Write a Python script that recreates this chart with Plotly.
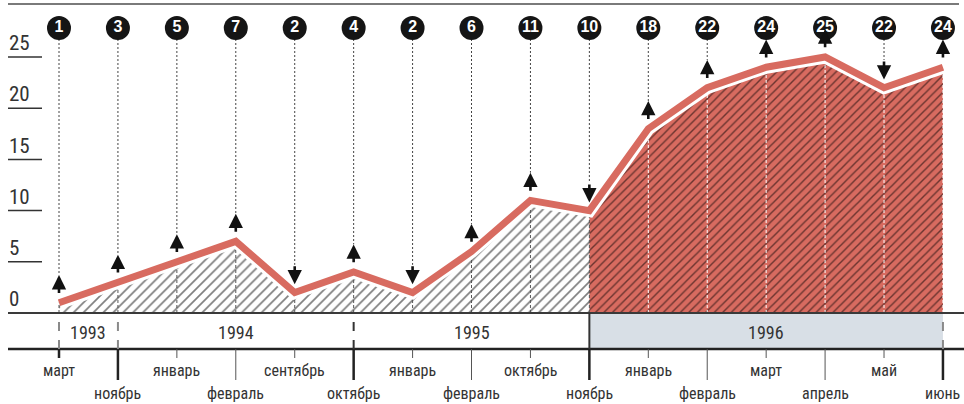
import plotly.graph_objects as go

# ---------------- data ----------------
values = [1, 3, 5, 7, 2, 4, 2, 6, 11, 10, 18, 22, 24, 25, 22, 24]
months = ["март", "ноябрь", "январь", "февраль", "сентябрь", "октябрь", "январь", "февраль",
          "октябрь", "ноябрь", "январь", "февраль", "март", "апрель", "май", "июнь"]
years = ["1993", "1994", "1995", "1996"]
year_bounds = [0, 1, 5, 9, 15]          # index positions where each year starts/ends
yticks = [0, 5, 10, 15, 20, 25]
split_index = 9                          # start of the highlighted (red) period

# ---------------- layout constants ----------------
W, H = 964, 404
X0_PX, DX_PX = 59, 58.93                 # pixel of index 0 and pixel step per index
Y0_PX, DY_PX = 313, 10.24                # pixel of value 0 and pixels per unit

def ypx(py):   # pixel row -> data y
    return (Y0_PX - py) / DY_PX

def xpx(px):   # pixel column -> data x
    return (px - X0_PX) / DX_PX

RED = "#d86b60"
FONT = "Liberation Sans Narrow, Roboto Condensed, DejaVu Sans Condensed, Arial Narrow, sans-serif"

n = len(values)
idx = list(range(n))

fig = go.Figure()

# hatched areas
fig.add_trace(go.Scatter(
    x=idx[:split_index + 1], y=values[:split_index + 1], mode="lines",
    line=dict(width=0), fill="tozeroy", fillcolor="white",
    fillpattern=dict(shape="/", fgcolor="#000", bgcolor="white", size=7, solidity=0.24),
    hoverinfo="skip", showlegend=False))
fig.add_trace(go.Scatter(
    x=idx[split_index:], y=values[split_index:], mode="lines",
    line=dict(width=0), fill="tozeroy", fillcolor=RED,
    fillpattern=dict(shape="/", fgcolor="#000", bgcolor=RED, size=6, solidity=0.24),
    hoverinfo="skip", showlegend=False))

# dashed verticals inside the area
for group, col in ((range(0, split_index + 1), "#555"), (range(split_index + 1, n), "white")):
    xs, ys = [], []
    for i in group:
        xs += [i, i, None]
        ys += [0, values[i], None]
    fig.add_trace(go.Scatter(x=xs, y=ys, mode="lines",
                             line=dict(color=col, width=1, dash="3px,2px"),
                             hoverinfo="skip", showlegend=False))

# white gap + red line
fig.add_trace(go.Scatter(x=idx, y=values, mode="lines", line=dict(color="white", width=13),
                         hoverinfo="skip", showlegend=False))
fig.add_trace(go.Scatter(x=idx, y=values, mode="lines", line=dict(color=RED, width=7),
                         hoverinfo="skip", showlegend=False))

# circles row
circle_y = ypx(28)
circle_bottom = ypx(39)
ARROW_LO, ARROW_HI = 0.8, 2.7

# dotted connectors from circles to arrows
xs, ys = [], []
for i, v in enumerate(values):
    top = v + ARROW_HI
    if top < circle_bottom:
        xs += [i, i, None]
        ys += [circle_bottom, top, None]
fig.add_trace(go.Scatter(x=xs, y=ys, mode="lines",
                         line=dict(color="#444", width=1, dash="2px,2px"),
                         hoverinfo="skip", showlegend=False))

fig.add_trace(go.Scatter(
    x=idx, y=[circle_y] * n, mode="markers+text",
    marker=dict(size=24, color="#151515"),
    text=[f"<b>{v}</b>" for v in values], textposition="middle center",
    textfont=dict(color="white", size=16, family="Liberation Sans Narrow, Liberation Sans, Arial, sans-serif"),
    hoverinfo="skip", showlegend=False))

annotations = []
shapes = []

# arrows (up = growth vs previous, down = decline)
for i, v in enumerate(values):
    up = i == 0 or v >= values[i - 1]
    head, tail = (v + ARROW_HI, v + ARROW_LO) if up else (v + ARROW_LO, v + ARROW_HI)
    annotations.append(dict(x=i, y=head, ax=i, ay=tail, xref="x", yref="y",
                            axref="x", ayref="y", text="", showarrow=True,
                            arrowhead=2, arrowsize=1.1, arrowwidth=2.6, arrowcolor="#111"))

# top rule
shapes.append(dict(type="line", x0=xpx(8), x1=xpx(959), y0=ypx(4), y1=ypx(4),
                   line=dict(color="#7a7a7a", width=2), layer="above"))

# y tick labels and short rules
for t in yticks:
    annotations.append(dict(x=xpx(7), y=t + 1.35, xref="x", yref="y", text=str(t),
                            showarrow=False, xanchor="left", yanchor="middle",
                            font=dict(size=21, color="#333", family=FONT)))
    if t != 0:
        shapes.append(dict(type="line", x0=xpx(8), x1=xpx(42), y0=t, y1=t,
                           line=dict(color="#333", width=1.5)))

# year band
band_top, band_bot = 0, ypx(349)
shapes.append(dict(type="rect", x0=year_bounds[3], x1=year_bounds[4], y0=band_bot, y1=band_top,
                   fillcolor="#d8dfe6", line=dict(width=0), layer="below"))
shapes.append(dict(type="line", x0=xpx(8), x1=xpx(964), y0=0, y1=0,
                   line=dict(color="#3a3a3a", width=2), layer="above"))
shapes.append(dict(type="line", x0=xpx(8), x1=xpx(964), y0=band_bot, y1=band_bot,
                   line=dict(color="#222", width=2.5), layer="above"))
sep_styles = {0: ("#8a8a8a", "dash"), 1: ("#8a8a8a", "dash"), 5: ("#333", "dash"),
              9: ("#333", "solid"), 15: ("#8a8a8a", "dash")}
for b in year_bounds:
    col, dash = sep_styles[b]
    shapes.append(dict(type="line", x0=b, x1=b, y0=band_bot, y1=band_top,
                       line=dict(color=col, width=2, dash=dash), layer="above"))
for k, yr in enumerate(years):
    annotations.append(dict(x=(year_bounds[k] + year_bounds[k + 1]) / 2, y=ypx(332),
                            xref="x", yref="y", text=yr, showarrow=False,
                            font=dict(size=18, color="#333", family=FONT)))

# month ticks & labels
for i, m in enumerate(months):
    lower = i % 2 == 1
    thick = i in year_bounds
    y_end = ypx(380) if lower else ypx(358)
    shapes.append(dict(type="line", x0=i, x1=i, y0=band_bot, y1=y_end,
                       line=dict(color="#222" if thick else "#555", width=2.5 if thick else 1),
                       layer="above"))
    annotations.append(dict(x=i, y=ypx(393) if lower else ypx(370), xref="x", yref="y",
                            text=m, showarrow=False,
                            font=dict(size=16, color="#333", family=FONT)))

fig.update_layout(
    width=W, height=H, margin=dict(l=0, r=0, t=0, b=0),
    paper_bgcolor="white", plot_bgcolor="white",
    xaxis=dict(range=[xpx(0), xpx(W)], visible=False, fixedrange=True),
    yaxis=dict(range=[ypx(H), ypx(0)], visible=False, fixedrange=True),
    shapes=shapes, annotations=annotations, showlegend=False,
)

fig.write_html("out.html", config={"displayModeBar": False},
               post_script="document.body.style.margin='0';document.body.style.overflow='hidden';")
